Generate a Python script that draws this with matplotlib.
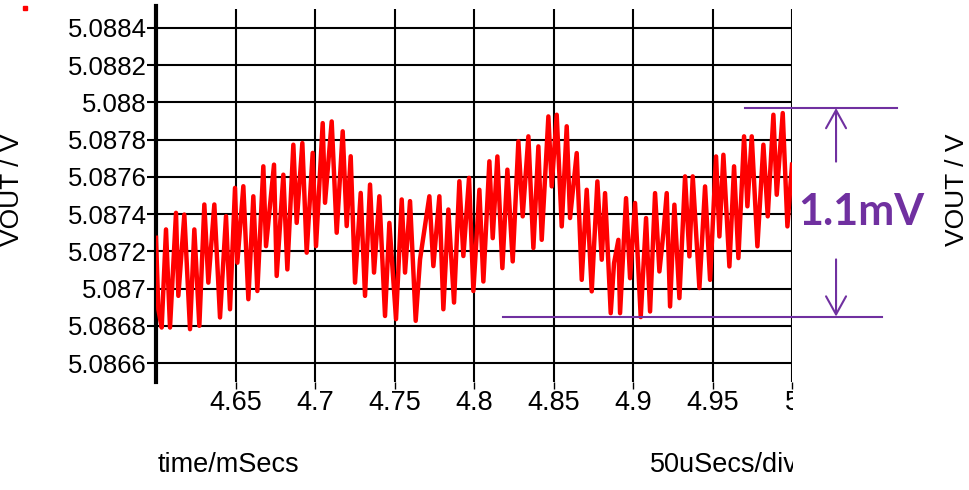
import matplotlib
matplotlib.use('Agg')
import matplotlib.pyplot as plt
from matplotlib.lines import Line2D
from matplotlib.transforms import Bbox

# trace (time in ms, VOUT in V)
time_ms = [4.6000, 4.60147, 4.60357, 4.60629, 4.60881, 4.61258, 4.61405, 4.61782,
           4.62139, 4.62411, 4.62726, 4.63040, 4.63292, 4.63669, 4.64026, 4.64403,
           4.64655, 4.64969, 4.65116, 4.65493, 4.65808, 4.66122, 4.66374, 4.66751,
           4.66919, 4.67422, 4.67590, 4.68009, 4.68261, 4.68638, 4.68848, 4.69204,
           4.69477, 4.69854, 4.70064, 4.70484, 4.70630, 4.71050, 4.71364, 4.71742,
           4.71993, 4.72245, 4.72517, 4.72874, 4.73146, 4.73461, 4.73712, 4.74048,
           4.74404, 4.74677, 4.75096, 4.75453, 4.75662, 4.75977, 4.76333, 4.76606,
           4.77193, 4.77444, 4.77822, 4.78073, 4.78388, 4.78744, 4.79080, 4.79331,
           4.79688, 4.79960,
           4.80338, 4.80589, 4.80967, 4.81177, 4.81470, 4.81784, 4.82099, 4.82434,
           4.82791, 4.83063, 4.83420, 4.83734, 4.84049, 4.84259, 4.84678, 4.84888,
           4.85202, 4.85517, 4.85831, 4.86041, 4.86460, 4.86775, 4.87089, 4.87404,
           4.87760, 4.88033, 4.88242, 4.88599, 4.88808, 4.89081, 4.89186, 4.89563,
           4.89815, 4.90129, 4.90486, 4.90821, 4.91073, 4.91387, 4.91660, 4.91911,
           4.92121, 4.92331, 4.92603, 4.92918, 4.93274, 4.93547, 4.93757, 4.94176,
           4.94532, 4.94847, 4.95224, 4.95434, 4.95685, 4.96063, 4.96356, 4.96629,
           4.96985, 4.97195, 4.97468, 4.97824, 4.98201, 4.98474, 4.98830, 4.99040,
           4.99417, 4.99711, 5.0000]
vout = [5.087273, 5.086889, 5.086791, 5.087318, 5.086791, 5.087407, 5.086961, 5.087398,
        5.086782, 5.087318, 5.086800, 5.087452, 5.087032, 5.087452, 5.086845, 5.087389,
        5.086889, 5.087541, 5.087139, 5.087550, 5.086943, 5.087496, 5.086987, 5.087657,
        5.087228, 5.087666, 5.087068, 5.087612, 5.087103, 5.087773, 5.087353, 5.087782,
        5.087193, 5.087729, 5.087228, 5.087889, 5.087461, 5.087898, 5.087300, 5.087845,
        5.087336, 5.087711, 5.087032, 5.087514, 5.086961, 5.087559, 5.087086, 5.087496,
        5.086853, 5.087353, 5.086836, 5.087479, 5.087086, 5.087470, 5.086827, 5.087157,
        5.087496, 5.087121, 5.087496, 5.086889, 5.087425, 5.086925, 5.087577, 5.087175,
        5.087595, 5.086987,
        5.087531, 5.087038, 5.087684, 5.087271, 5.087710, 5.087110, 5.087639, 5.087146,
        5.087791, 5.087388, 5.087818, 5.087218, 5.087764, 5.087262, 5.087925, 5.087549,
        5.087934, 5.087334, 5.087872, 5.087379, 5.087728, 5.087047, 5.087531, 5.086985,
        5.087576, 5.087155, 5.087513, 5.086868, 5.087137, 5.087262, 5.086868, 5.087486,
        5.087056, 5.087460, 5.086847, 5.087379, 5.086877, 5.087513, 5.087092, 5.087298,
        5.087513, 5.086904, 5.087451, 5.086949, 5.087603, 5.087173, 5.087603, 5.087003,
        5.087549, 5.087047, 5.087710, 5.087280, 5.087719, 5.087119, 5.087657, 5.087164,
        5.087818, 5.087442, 5.087818, 5.087227, 5.087773, 5.087388, 5.087934, 5.087504,
        5.087943, 5.087334, 5.087666]

x_ticks = [4.65, 4.7, 4.75, 4.8, 4.85, 4.9, 4.95, 5.0]
x_tick_labels = ['4.65', '4.7', '4.75', '4.8', '4.85', '4.9', '4.95', '5']
y_ticks = [5.0866, 5.0868, 5.087, 5.0872, 5.0874, 5.0876, 5.0878, 5.088, 5.0882, 5.0884]
y_tick_labels = ['5.0866', '5.0868', '5.087', '5.0872', '5.0874', '5.0876', '5.0878',
                 '5.088', '5.0882', '5.0884']

ripple_top = 5.08797
ripple_bottom = 5.08685
ripple_label = '1.1mV'

purple = '#7030A0'
narrow = ['Liberation Sans Narrow', 'Liberation Sans', 'DejaVu Sans']
plt.rcParams['font.family'] = ['Liberation Sans', 'DejaVu Sans']

fig = plt.figure(figsize=(9.7, 4.9), dpi=100)
ax = fig.add_axes([156 / 970, 1 - 381.7 / 490, 636 / 970, (381.7 - 9.35) / 490])
ax.plot(time_ms, vout, color='red', lw=3.2, solid_joinstyle='round', zorder=3)

ax.set_xlim(4.6, 5.0)
ax.set_ylim(5.0865, 5.0885)
ax.set_xticks(x_ticks, x_tick_labels)
ax.set_yticks(y_ticks, y_tick_labels)
ax.grid(True, color='black', lw=1.5)
ax.set_axisbelow(True)
for s in ['top', 'right', 'bottom']:
    ax.spines[s].set_visible(False)
ax.spines['left'].set_linewidth(3)
ax.spines['left'].set_bounds(5.0865, 5.08852)

ax.tick_params(axis='y', direction='out', length=6.5, width=1.5, labelsize=18.5, pad=0)
ax.tick_params(axis='x', direction='out', length=5, width=1, labelsize=19.5, pad=1)

# text on the bottom strip is cut at the right edge of the plot
cut = Bbox.from_extents(0, 0, 793, 490)
for lab in ax.get_xticklabels():
    lab.set_family(narrow)
    lab.set_clip_box(cut)
    lab.set_clip_on(True)

fig.text(12 / 970, 1 - 190 / 490, 'VOUT / V', rotation=90, ha='center', va='center', fontsize=19)
fig.text(957 / 970, 1 - 190 / 490, 'VOUT / V', rotation=90, ha='center', va='center', fontsize=19)
fig.text(158 / 970, 1 - 465 / 490, 'time/mSecs', ha='left', va='center', fontsize=19.5, family=narrow)
t = fig.text(650 / 970, 1 - 465 / 490, '50uSecs/div', ha='left', va='center', fontsize=19.5, family=narrow)
t.set_clip_box(cut)
t.set_clip_on(True)

fig.add_artist(Line2D([25 / 970], [1 - 8 / 490], transform=fig.transFigure,
                      marker='s', ms=2.5, color='red', lw=0))

# ripple annotation
ax.plot([4.9705, 5.0661], [ripple_top, ripple_top], color=purple, lw=1.5, clip_on=False, zorder=4)
ax.plot([4.8183, 5.0567], [ripple_bottom, ripple_bottom], color=purple, lw=1.5, clip_on=False, zorder=4)
arrow = dict(arrowstyle='->,head_length=0.65,head_width=0.36', color=purple, lw=1.5,
             mutation_scale=20, shrinkA=0, shrinkB=0)
ax.annotate('', xy=(5.0277, ripple_top), xytext=(5.0277, 5.087682), arrowprops=arrow,
            annotation_clip=False)
ax.annotate('', xy=(5.0277, ripple_bottom), xytext=(5.0277, 5.087157), arrowprops=arrow,
            annotation_clip=False)
ax.text(5.0435, (ripple_top + ripple_bottom) / 2, ripple_label, color=purple, fontsize=31,
        fontweight='bold', family=['Lato', 'DejaVu Sans'], ha='center', va='center', clip_on=False)

fig.savefig('out.png', dpi=100)
